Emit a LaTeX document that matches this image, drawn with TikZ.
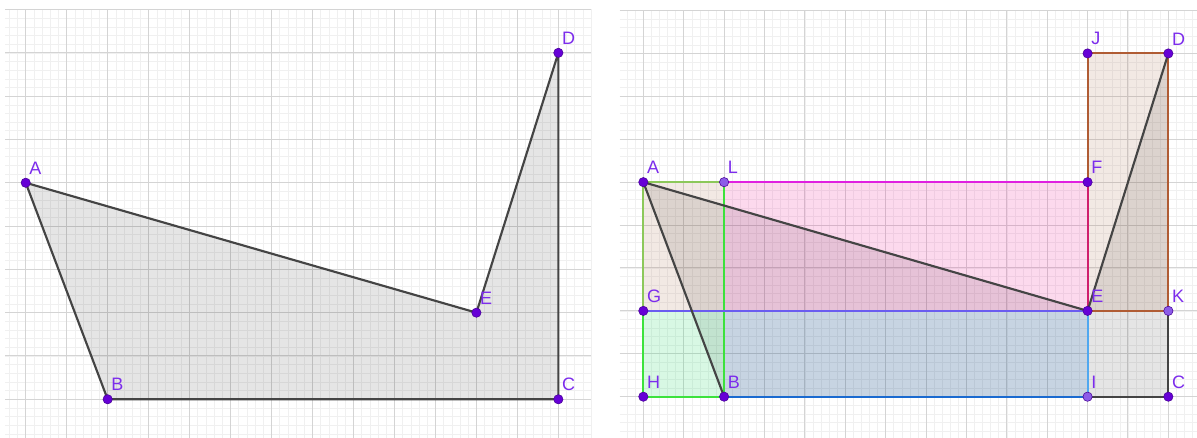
\documentclass[tikz,border=0pt]{standalone}
\usepackage{fontspec}
\setmainfont{Liberation Sans}
\usetikzlibrary{positioning}

\definecolor{minorline}{RGB}{240,240,240}
\definecolor{majorline}{RGB}{212,212,212}
\definecolor{edgegrey}{RGB}{68,68,68}
\definecolor{dotviolet}{RGB}{102,0,214}
\definecolor{dotlight}{RGB}{140,92,232}
\definecolor{labelviolet}{RGB}{124,44,236}
\definecolor{greenedge}{RGB}{60,226,60}
\definecolor{oliveedge}{RGB}{140,200,90}
\definecolor{magentaedge}{RGB}{224,32,224}
\definecolor{crimsonedge}{RGB}{208,30,110}
\definecolor{blueedge}{RGB}{26,106,208}
\definecolor{violetedge}{RGB}{106,92,240}
\definecolor{skyedge}{RGB}{80,168,240}
\definecolor{brownedge}{RGB}{176,92,52}
\definecolor{greenfill}{RGB}{40,220,110}
\definecolor{bluefill}{RGB}{30,120,210}
\definecolor{brownfill}{RGB}{170,110,80}

\tikzset{
  % Grid lines
  minorgrid/.style={draw=minorline, line width=0.45pt},
  majorgrid/.style={draw=majorline, line width=0.75pt},
  % Polygon and rectangles
  polyfill/.style={fill=black, fill opacity=0.1},
  polyedge/.style={draw=edgegrey, line width=1.6pt, line join=round, line cap=round},
  rectedge/.style={line width=1.5pt, line cap=round},
  greenpart/.style={fill=greenfill, fill opacity=0.18},
  beigepart/.style={fill=brownfill, fill opacity=0.15},
  magentapart/.style={fill=magenta, fill opacity=0.15},
  bluepart/.style={fill=bluefill, fill opacity=0.15},
  brownpart/.style={fill=brownfill, fill opacity=0.15},
  % Points and their names
  vertex/.style={circle, inner sep=0pt, minimum size=7pt, fill=dotviolet, draw=dotviolet!70!black, line width=0.4pt},
  vertexdep/.style={vertex, fill=dotlight},
  ptlabel/.style={inner sep=0pt, text=labelviolet, font=\fontsize{13.5}{16}\selectfont},
}

\begin{document}
\begin{tikzpicture}
  \useasboundingbox (0,0) rectangle (897.75pt,328.5pt);
  \fill[white] (0,0) rectangle (897.75pt,328.5pt);

  % Left figure
  \begin{scope}[shift={(19.28pt,29.03pt)}, x=30.73pt, y=32.48pt]
    \draw[minorgrid] (-0.5,-0.9) grid[step=0.2] (13.8,9.01);
    \draw[majorgrid] (-0.5,-0.9) grid[step=1] (13.8,9.01);

    % Define points
    \coordinate (A) at (0,5);
    \coordinate (B) at (2,0);
    \coordinate (C) at (13,0);
    \coordinate (D) at (13,8);
    \coordinate (E) at (11,2);

    \fill[polyfill] (A) -- (B) -- (C) -- (D) -- (E) -- cycle;
    \draw[polyedge] (A) -- (B) -- (C) -- (D) -- (E) -- cycle;

    \foreach \p in {A,B,C,D,E} {
      \node[vertex] (d\p) at (\p) {};
      \node[ptlabel, above right=3.4pt and 0pt of d\p] (t\p) {\p};
    }
  \end{scope}

  % Right figure
  \begin{scope}[shift={(482.5pt,30.98pt)}, x=30.29pt, y=32.18pt]
    \draw[minorgrid] (-0.58,-0.96) grid[step=0.2] (13.71,9.01);
    \draw[majorgrid] (-0.58,-0.96) grid[step=1] (13.71,9.01);

    % Define points
    \coordinate (rA) at (0,5);
    \coordinate (rB) at (2,0);
    \coordinate (rC) at (13,0);
    \coordinate (rD) at (13,8);
    \coordinate (rE) at (11,2);
    \coordinate (rF) at (11,5);
    \coordinate (rG) at (0,2);
    \coordinate (rH) at (0,0);
    \coordinate (rI) at (11,0);
    \coordinate (rJ) at (11,8);
    \coordinate (rK) at (13,2);
    \coordinate (rL) at (2,5);
    \coordinate (rM) at (2,2);

    % Fills
    \fill[polyfill] (rA) -- (rB) -- (rC) -- (rD) -- (rE) -- cycle;
    \fill[beigepart] (rG) -- (rM) -- (rL) -- (rA) -- cycle;
    \fill[greenpart] (rH) -- (rB) -- (rM) -- (rG) -- cycle;
    \fill[magentapart] (rM) -- (rE) -- (rF) -- (rL) -- cycle;
    \fill[bluepart] (rB) -- (rI) -- (rE) -- (rM) -- cycle;
    \fill[brownpart] (rE) -- (rK) -- (rD) -- (rJ) -- cycle;

    % Rectangle sides
    \draw[rectedge, draw=greenedge] (rG) -- (rH) -- (rB) -- (rL);
    \draw[rectedge, draw=oliveedge] (rG) -- (rA) -- (rL);
    \draw[rectedge, draw=magentaedge] (rL) -- (rF);
    \draw[rectedge, draw=crimsonedge] (rF) -- (rE);
    \draw[rectedge, draw=violetedge] (rG) -- (rE);
    \draw[rectedge, draw=skyedge] (rE) -- (rI);
    \draw[rectedge, draw=blueedge] (rB) -- (rI);
    \draw[rectedge, draw=brownedge] (rF) -- (rJ) -- (rD) -- (rK) -- (rE);

    % Polygon sides
    \draw[polyedge] (rB) -- (rA) -- (rE) -- (rD);
    \draw[polyedge] (rI) -- (rC) -- (rK);

    \foreach \p in {A,B,C,D,E,F,G,H,J} {
      \node[vertex] (d\p2) at (r\p) {};
      \node[ptlabel, above right=3.4pt and 0pt of d\p2] (t\p2) {\p};
    }
    \foreach \p in {I,K,L} {
      \node[vertexdep] (d\p2) at (r\p) {};
      \node[ptlabel, above right=3.4pt and 0pt of d\p2] (t\p2) {\p};
    }
  \end{scope}

\end{tikzpicture}
\end{document}
